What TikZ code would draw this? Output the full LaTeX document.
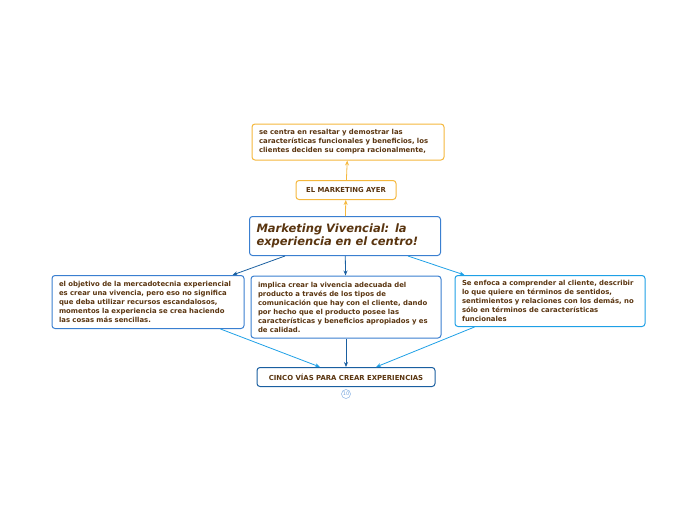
\documentclass[tikz,border=0pt]{standalone}
\usepackage{fontspec}
\setmainfont{DejaVu Sans}
\usetikzlibrary{arrows.meta}
\definecolor{txt}{HTML}{5A3510}
\definecolor{orng}{HTML}{F5B83D}
\definecolor{blu}{HTML}{3A7FD0}
\definecolor{lblu}{HTML}{1EA0E6}
\definecolor{dblu}{HTML}{1A5FA0}
\tikzset{
    box/.style = {draw, rounded corners=3pt, line width=1pt, fill=white, text=txt,
        font=\fontsize{6.9}{9}\selectfont\bfseries, align=left, inner xsep=7pt, inner ysep=4pt},
    ayer/.style = {box, draw=orng},
    hoy/.style = {box, draw=blu},
    link/.style = {-{Stealth[length=5pt,width=4pt]}, line width=0.8pt}
}
\begin{document}
\begin{tikzpicture}[x=1pt, y=-1pt]
    \useasboundingbox (0,0) rectangle (697,520);

    % Central topic
    \node[hoy, text width=177pt, minimum height=39pt, font=\fontsize{11.5}{13}\selectfont\bfseries\itshape]
        (main) at (345,236) {Marketing Vivencial: la\\experiencia en el centro!};

    % Upper branch
    \node[ayer, minimum width=100pt, minimum height=19pt] (ayer) at (346,190) {EL MARKETING AYER};
    \node[ayer, text width=178pt, minimum height=36pt] (antes) at (348,142)
        {se centra en resaltar y demostrar las\\caracter\'isticas funcionales y beneficios, los\\clientes deciden su compra racionalmente,};

    % Lower branches
    \node[hoy, text width=178pt, minimum height=53pt] (objetivo) at (148,302)
        {el objetivo de la mercadotecnia experiencial\\es crear una vivencia, pero eso no significa\\que deba utilizar recursos escandalosos,\\momentos la experiencia se crea haciendo\\las cosas m\'as sencillas.};
    \node[hoy, text width=176pt, minimum height=62pt] (implica) at (346,307)
        {implica crear la vivencia adecuada del\\producto a trav\'es de los tipos de\\comunicaci\'on que hay con el cliente, dando\\por hecho que el producto posee las\\caracter\'isticas y beneficios apropiados y es\\de calidad.};
    \node[box, draw=lblu, text width=176pt, minimum height=51pt] (enfoca) at (550,301)
        {Se enfoca a comprender al cliente, describir\\lo que quiere en t\'erminos de sentidos,\\sentimientos y relaciones con los dem\'as, no\\s\'olo en t\'erminos de caracter\'isticas\\funcionales};

    \node[hoy, draw=dblu, minimum width=178pt, minimum height=19pt] (cinco) at (346,377)
        {CINCO V\'IAS PARA CREAR EXPERIENCIAS};
    \node[circle, draw=blu!60, line width=0.5pt, inner sep=0.5pt, minimum size=9pt,
        text=blu!70, font=\fontsize{5}{5}\selectfont] (num) at (346,394) {10};

    % Connector ends
    \coordinate (m1) at ([xshift=36pt]main.south west);
    \coordinate (o1) at ([xshift=-12pt]objetivo.north east);
    \coordinate (m2) at ([xshift=-33pt]main.south east);
    \coordinate (e1) at ([xshift=10pt]enfoca.north west);
    \coordinate (o2) at ([xshift=-24pt]objetivo.south east);
    \coordinate (c1) at ([xshift=-26pt]cinco.north);
    \coordinate (e2) at ([xshift=20pt]enfoca.south west);
    \coordinate (c2) at ([xshift=30pt]cinco.north);

    % Connectors
    \draw[link, orng] (main) -- (ayer);
    \draw[link, orng] (ayer) -- (antes);
    \draw[link, dblu] (m1) -- (o1);
    \draw[link, dblu] (main) -- (implica);
    \draw[link, lblu] (m2) -- (e1);
    \draw[link, lblu] (o2) -- (c1);
    \draw[link, dblu] (implica) -- (cinco);
    \draw[link, lblu] (e2) -- (c2);
\end{tikzpicture}
\end{document}
